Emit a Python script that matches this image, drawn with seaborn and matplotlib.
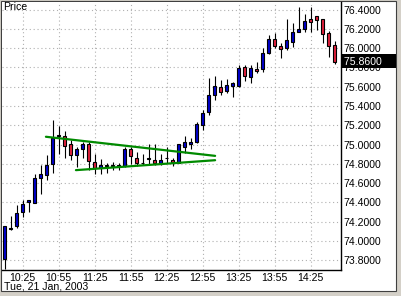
import numpy as np
import pandas as pd
import matplotlib
matplotlib.use("Agg")
import matplotlib.pyplot as plt
from matplotlib.patches import Rectangle
import seaborn as sns

# ---- data (5-minute candles, 10:10 .. 14:45) ----
opens = [73.814, 74.130, 74.152, 74.300, 74.403, 74.397, 74.655, 74.686, 74.800, 75.085,
         75.086, 75.004, 74.887, 74.949, 75.004, 74.817, 74.762, 74.775, 74.778, 74.777,
         74.776, 74.949, 74.866, 74.806, 74.848, 74.845, 74.810, 74.858, 74.845, 74.810,
         74.976, 75.004, 75.031, 75.203, 75.338, 75.518, 75.597, 75.559, 75.607, 75.607,
         75.807, 75.700, 75.787, 75.787, 75.952, 76.097, 76.024, 76.000, 76.062, 76.165,
         76.200, 76.297, 76.328, 76.297, 76.155, 76.028]
highs = [74.155, 74.255, 74.369, 74.428, 74.430, 74.697, 74.793, 74.897, 75.252, 75.190,
         75.138, 75.045, 74.976, 75.024, 75.024, 74.907, 74.850, 74.810, 74.820, 74.810,
         74.976, 74.976, 74.928, 74.907, 75.004, 75.004, 74.907, 74.970, 74.860, 75.004,
         75.086, 75.073, 75.230, 75.362, 75.693, 75.707, 75.666, 75.683, 75.648, 75.821,
         75.824, 75.824, 75.855, 76.004, 76.134, 76.159, 76.051, 76.297, 76.259, 76.431,
         76.355, 76.424, 76.328, 76.297, 76.173, 76.069]
lows = [73.714, 74.110, 74.138, 74.248, 74.300, 74.397, 74.490, 74.634, 74.707, 74.907,
        74.866, 74.838, 74.770, 74.866, 74.735, 74.690, 74.700, 74.710, 74.735, 74.740,
        74.766, 74.797, 74.783, 74.790, 74.790, 74.790, 74.790, 74.804, 74.776, 74.810,
        74.914, 74.949, 75.020, 75.156, 75.307, 75.466, 75.514, 75.534, 75.493, 75.596,
        75.659, 75.638, 75.741, 75.752, 75.942, 76.000, 75.900, 75.976, 76.010, 76.162,
        76.165, 76.165, 76.190, 76.051, 75.907, 75.838]
closes = [74.152, 74.135, 74.293, 74.386, 74.424, 74.655, 74.690, 74.793, 75.073, 75.095,
          74.990, 74.887, 74.949, 75.004, 74.830, 74.762, 74.790, 74.785, 74.788, 74.790,
          74.955, 74.879, 74.804, 74.814, 74.856, 74.804, 74.838, 74.866, 74.817, 75.004,
          75.031, 75.031, 75.217, 75.331, 75.518, 75.603, 75.541, 75.621, 75.634, 75.797,
          75.707, 75.797, 75.762, 75.952, 76.097, 76.021, 75.993, 76.087, 76.172, 76.200,
          76.286, 76.269, 76.293, 76.149, 76.021, 75.860]

tick_labels = ["10:25", "10:55", "11:25", "11:55", "12:25", "12:55", "13:25", "13:55", "14:25"]
tick_index = [3, 9, 15, 21, 27, 33, 39, 45, 51]
y_ticks = [73.8, 74.0, 74.2, 74.4, 74.6, 74.8, 75.0, 75.2, 75.4, 75.6, 75.8, 76.0, 76.2, 76.4]

upper_x = [6.9, 35.1]
upper_y = [75.081, 74.883]
lower_x = [11.9, 35.1]
lower_y = [74.735, 74.838]

last_price = 75.86
date_label = "Tue, 21 Jan, 2003"

# ---- style ----
sns.set_style("white")
plt.rcParams['font.family'] = ['Liberation Sans', 'DejaVu Sans']

W, H = 401, 296
fig = plt.figure(figsize=(W / 100, H / 100), dpi=100)
fig.patch.set_facecolor('#D4D0C8')

def fx(px):
    return px / W

def fy(py):
    return 1 - py / H

# outer white panel with frame
fig.patches.append(Rectangle((fx(0.5), fy(290.5)), fx(396) - fx(0.5), fy(0.5) - fy(290.5),
                             transform=fig.transFigure, facecolor='white',
                             edgecolor='#404040', linewidth=0.8, zorder=-10))

L, R, T, B = 2, 341, 1.5, 270
ax = fig.add_axes([fx(L), fy(B), fx(R) - fx(L), fy(T) - fy(B)])
ax.set_facecolor('white')
ax.set_zorder(1)

df = pd.DataFrame({"o": opens, "h": highs, "l": lows, "c": closes})
df["i"] = np.arange(len(df))
up = df["c"] >= df["o"]
colors = np.where(up, '#0000CC', '#E0203C')
body_bottom = np.minimum(df["o"], df["c"])
body_h = np.maximum(np.abs(df["c"] - df["o"]), 0.004)

ax.vlines(df["i"], df["l"], df["h"], color='black', linewidth=0.8, zorder=2)
ax.bar(df["i"], body_h, bottom=body_bottom, width=0.55, color=colors,
       edgecolor='black', linewidth=0.8, zorder=3)

tri = pd.DataFrame({"x": upper_x + lower_x, "y": upper_y + lower_y,
                    "line": ["upper"] * 2 + ["lower"] * 2})
sns.lineplot(data=tri, x="x", y="y", units="line", estimator=None, color='#008A00',
             linewidth=1.6, ax=ax, zorder=4, legend=False)

ax.set_xlim(-0.42, 56.08)
ax.set_ylim(73.70, 76.483)
ax.set_xticks(tick_index)
ax.set_xticklabels(tick_labels)
ax.set_yticks(y_ticks)
ax.set_yticklabels([f"{v:.4f}" for v in y_ticks])
ax.yaxis.tick_right()
ax.tick_params(axis='both', length=0, labelsize=7.6, colors='black')
ax.tick_params(axis='y', pad=1.6)
ax.tick_params(axis='x', pad=2.0)
ax.set_xlabel("")
ax.set_ylabel("")
ax.grid(True, color='#B0B0B0', linestyle=(0, (1, 2.5)), linewidth=0.8, zorder=0)
ax.set_axisbelow(True)
for s in ['top', 'left']:
    ax.spines[s].set_visible(False)
for s in ['right', 'bottom']:
    ax.spines[s].set_color('black')
    ax.spines[s].set_linewidth(1.0)

# last price box (drawn over the tick labels)
ax.add_patch(Rectangle((fx(341), fy(67.7)), fx(396) - fx(341), fy(54.3) - fy(67.7),
                       transform=fig.transFigure, facecolor='black',
                       edgecolor='none', zorder=5, clip_on=False))
ax.text(1.0, last_price, f" {last_price:.4f}", transform=ax.get_yaxis_transform(),
        ha='left', va='center', color='white', fontsize=7.6, zorder=6, clip_on=False)

ax.text(fx(3), fy(2), "Price", transform=fig.transFigure, ha='left', va='top',
        fontsize=7.6, color='black')
fig.text(fx(4), fy(281.5), date_label, ha='left', va='top', fontsize=7.6, color='black')

fig.savefig("out.png", dpi=100, facecolor=fig.get_facecolor())
